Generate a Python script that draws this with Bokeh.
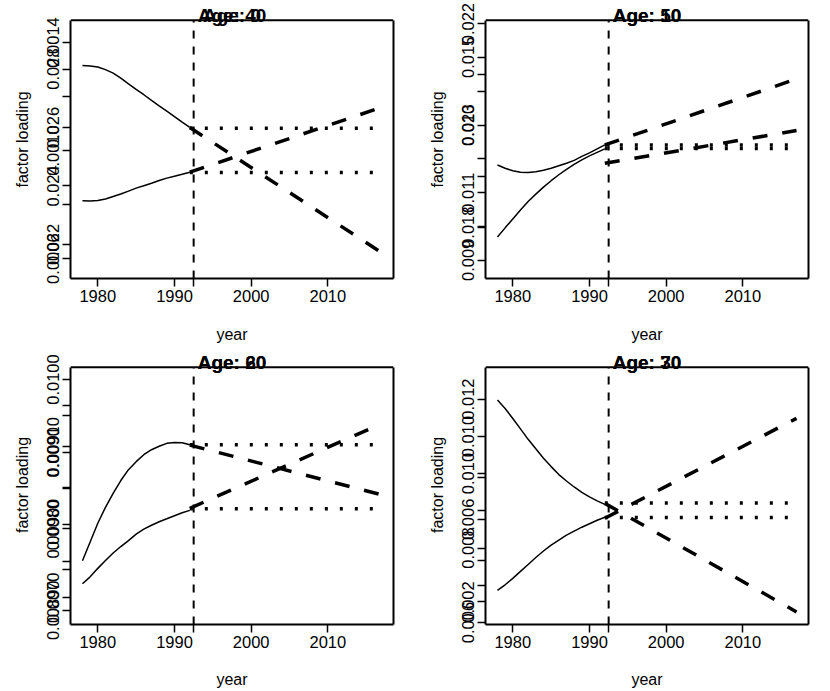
from bokeh.plotting import figure
from bokeh.models import Range1d, FixedTicker, Span, Label, LinearAxis
from bokeh.layouts import column, row
from bokeh.embed import file_html
from bokeh.resources import INLINE

FONT = "Liberation Sans"

years_fit = list(range(1978, 1993))
years_fc = [1992, 2017]
x_limits = [1976.44, 2018.56]
jump_off_year = 1992.5
x_ticks = [1980, 1990, 1992.5, 2000, 2010]
x_tick_labels = ["1980", "1990", " ", "2000", "2010"]

# ---- panel 1: Age 0 (scale A) / Age 40 (scale B)
age0_fit = [0.02812, 0.02810, 0.02807, 0.02798, 0.02786, 0.02769, 0.02749, 0.02730,
            0.02712, 0.02693, 0.02674, 0.02656, 0.02637, 0.02618, 0.02600]
age0_trend = [0.02600, 0.02172]
age0_level = 0.02597
age40_fit = [0.000814, 0.000813, 0.000815, 0.000821, 0.000830, 0.000839, 0.000850, 0.000861,
             0.000870, 0.000879, 0.000889, 0.000898, 0.000905, 0.000912, 0.000920]
age40_trend = [0.000920, 0.001160]
age40_level = 0.000919
p1_ylim_a = [0.0208353, 0.0296638]
p1_ylim_b = [0.0005265, 0.0014819]
p1_ticks_a = [0.022, 0.024, 0.026, 0.028]
p1_labels_a = ["0.022", "0.024", "0.026", "0.028"]
p1_ticks_b = [0.0006, 0.0008, 0.0010, 0.0012, 0.0014]
p1_labels_b = ["0.0006", " ", "0.0010", " ", "0.0014"]

# ---- panel 2: Age 10 / Age 50
age10_fit = [0.019221, 0.019157, 0.019108, 0.019079, 0.019073, 0.019089, 0.019118, 0.019157,
             0.019206, 0.019255, 0.019313, 0.019391, 0.019459, 0.019538, 0.019616]
age10_trend = [0.019616, 0.020913]
age10_level = 0.019616
age50_fit = [0.009687, 0.009960, 0.010224, 0.010488, 0.010738, 0.010958, 0.011163, 0.011354,
             0.011530, 0.011692, 0.011839, 0.011971, 0.012088, 0.012191, 0.012294]
age50_trend = [0.011868, 0.012837]
age50_level = 0.012308
p2_ylim_a = [0.0169913, 0.0220644]
p2_ylim_b = [0.0084629, 0.0160949]
p2_ticks_a = [0.018, 0.019, 0.020, 0.021, 0.022]
p2_labels_a = ["0.018", " ", "0.020", " ", "0.022"]
p2_ticks_b = [0.009, 0.010, 0.011, 0.012, 0.013, 0.014, 0.015]
p2_labels_b = ["0.009", " ", "0.011", " ", "0.013", " ", "0.015"]

# ---- panel 3: Age 20 / Age 60
age20_fit = [0.007509, 0.007765, 0.008024, 0.008243, 0.008434, 0.008611, 0.008761, 0.008871,
             0.008966, 0.009035, 0.009082, 0.009123, 0.009134, 0.009130, 0.009103]
age20_trend = [0.009099, 0.008415]
age20_level = 0.009103
age60_fit = [0.0089324, 0.0089409, 0.0089513, 0.0089610, 0.0089701, 0.0089780, 0.0089853,
             0.0089932, 0.0089993, 0.0090041, 0.0090084, 0.0090120, 0.0090157, 0.0090193,
             0.0090223]
age60_trend = [0.0090248, 0.0091284]
age60_level = 0.0090244
p3_ylim_a = [0.0066313, 0.0101680]
p3_ylim_b = [0.0088826, 0.0091973]
p3_ticks_a = [0.0070, 0.0075, 0.0080, 0.0085, 0.0090, 0.0095, 0.0100]
p3_labels_a = ["0.0070", " ", "0.0080", " ", "0.0090", " ", "0.0100"]
p3_ticks_b = [0.00890, 0.00895, 0.00900, 0.00905, 0.00910, 0.00915]
p3_labels_b = ["0.00890", " ", "0.00900", " ", "0.00910", " "]

# ---- panel 4: Age 30 / Age 70
age30_fit = [0.011973, 0.011747, 0.011480, 0.011200, 0.010920, 0.010667, 0.010413, 0.010187,
             0.009973, 0.009800, 0.009640, 0.009493, 0.009373, 0.009267, 0.009173]
age30_trend = [0.009200, 0.006285]
age30_level = 0.009213
age70_fit = [0.002557, 0.002831, 0.003143, 0.003479, 0.003815, 0.004151, 0.004463, 0.004751,
             0.004992, 0.005232, 0.005424, 0.005616, 0.005784, 0.005952, 0.006096]
age70_trend = [0.006048, 0.010879]
age70_level = 0.006082
p4_ylim_a = [0.005947, 0.012853]
p4_ylim_b = [0.0009098, 0.0133470]
p4_ticks_a = [0.006, 0.007, 0.008, 0.009, 0.010, 0.011, 0.012]
p4_labels_a = ["0.006", " ", "0.008", " ", "0.010", " ", "0.012"]
p4_ticks_b = [0.002, 0.004, 0.006, 0.008, 0.010]
p4_labels_b = ["0.002", " ", "0.006", " ", "0.010"]


def style_axis(a):
    a.axis_line_color = "black"
    a.axis_line_width = 2
    a.major_tick_in = 0
    a.major_tick_out = 8
    a.major_tick_line_width = 1.5
    a.major_tick_line_color = "black"
    a.minor_tick_line_color = None
    a.major_label_standoff = 0
    a.major_label_text_font = FONT
    a.major_label_text_font_size = "16.5px"
    a.major_label_text_color = "black"
    a.axis_label_text_font = FONT
    a.axis_label_text_font_size = "16px"
    a.axis_label_text_font_style = "normal"
    a.axis_label_text_color = "black"


def make_panel(title_a, title_b, fit_a, trend_a, level_a, fit_b, trend_b, level_b,
               ylim_a, ylim_b, ticks_a, labels_a, ticks_b, labels_b,
               width, height, b_left, b_right, b_bottom, title_px, xlab_standoff):
    a0, a1 = ylim_a
    b0, b1 = ylim_b
    box_px = height - b_bottom - title_px
    a_top = a1 + (a1 - a0) * title_px / box_px
    b_top = b1 + (b1 - b0) * title_px / box_px

    p = figure(width=width, height=height, output_backend="svg", toolbar_location=None,
               x_range=Range1d(*x_limits), y_range=Range1d(a0, a_top),
               min_border_left=b_left, min_border_right=b_right,
               min_border_top=0, min_border_bottom=b_bottom)
    p.title.visible = False
    p.extra_y_ranges = {"b": Range1d(b0, b_top)}
    p.grid.visible = False
    p.outline_line_color = None
    p.background_fill_color = "white"
    p.border_fill_color = "white"

    # series A
    p.line(years_fit, fit_a, line_color="black", line_width=1.5)
    p.line(years_fc, trend_a, line_color="black", line_width=3.5, line_dash="15 15")
    p.line(years_fc, [level_a, level_a], line_color="black", line_width=3.5, line_dash="3 12")
    # series B on its own scale
    p.line(years_fit, fit_b, line_color="black", line_width=1.5, y_range_name="b")
    p.line(years_fc, trend_b, line_color="black", line_width=3.5, line_dash="15 15",
           y_range_name="b")
    p.line(years_fc, [level_b, level_b], line_color="black", line_width=3.5,
           line_dash="3 12", y_range_name="b")

    # jump-off line, limited to the plot box
    p.segment(x0=[jump_off_year], y0=[a0], x1=[jump_off_year], y1=[a1],
              line_color="black", line_width=2, line_dash="8 8")
    # top edge of the plot box
    p.add_layout(Span(location=a1, dimension="width", line_color="black", line_width=2))

    # overlaid y axes: B ticks mapped onto the A scale
    all_ticks = []
    overrides = {}
    for t, lab in zip(ticks_a, labels_a):
        all_ticks.append(t)
        overrides[t] = lab
    for t, lab in zip(ticks_b, labels_b):
        pos = a0 + (t - b0) * (a1 - a0) / (b1 - b0)
        all_ticks.append(pos)
        overrides[pos] = lab
    ax = p.yaxis[0]
    ax.ticker = FixedTicker(ticks=all_ticks)
    ax.major_label_overrides = overrides
    ax.major_label_orientation = "vertical"
    ax.axis_label = "factor loading"
    ax.axis_label_standoff = 11
    ax.bounds = (a0, a1)
    style_axis(ax)

    xa = p.xaxis[0]
    xa.ticker = FixedTicker(ticks=x_ticks)
    xa.major_label_overrides = {t: l for t, l in zip(x_ticks, x_tick_labels)}
    xa.axis_label = "year"
    xa.axis_label_standoff = xlab_standoff
    style_axis(xa)

    # right edge of the plot box
    ra = LinearAxis(ticker=FixedTicker(ticks=[]), bounds=(a0, a1))
    style_axis(ra)
    ra.major_tick_line_color = None
    ra.major_label_text_color = None
    p.add_layout(ra, "right")

    ty = a1 + (a1 - a0) * 5 / box_px
    xc = (x_limits[0] + x_limits[1]) / 2
    for t in (title_a, title_b):
        p.add_layout(Label(x=xc, y=ty, text=t, text_align="center",
                           text_baseline="alphabetic", text_font=FONT,
                           text_font_style="bold", text_font_size="19px",
                           text_color="black"))
    return p


p1 = make_panel("Age: 0", "Age: 40", age0_fit, age0_trend, age0_level,
                age40_fit, age40_trend, age40_level, p1_ylim_a, p1_ylim_b,
                p1_ticks_a, p1_labels_a, p1_ticks_b, p1_labels_b,
                415, 345, 70, 22, 65, 20, 18)
p2 = make_panel("Age: 10", "Age: 50", age10_fit, age10_trend, age10_level,
                age50_fit, age50_trend, age50_level, p2_ylim_a, p2_ylim_b,
                p2_ticks_a, p2_labels_a, p2_ticks_b, p2_labels_b,
                414, 345, 70, 21, 65, 20, 18)
p3 = make_panel("Age: 20", "Age: 60", age20_fit, age20_trend, age20_level,
                age60_fit, age60_trend, age60_level, p3_ylim_a, p3_ylim_b,
                p3_ticks_a, p3_labels_a, p3_ticks_b, p3_labels_b,
                415, 345, 70, 22, 64, 22, 17)
p4 = make_panel("Age: 30", "Age: 70", age30_fit, age30_trend, age30_level,
                age70_fit, age70_trend, age70_level, p4_ylim_a, p4_ylim_b,
                p4_ticks_a, p4_labels_a, p4_ticks_b, p4_labels_b,
                414, 345, 70, 21, 64, 22, 17)

layout = column(row(p1, p2), row(p3, p4))
open("out.html", "w").write(file_html(layout, INLINE))
